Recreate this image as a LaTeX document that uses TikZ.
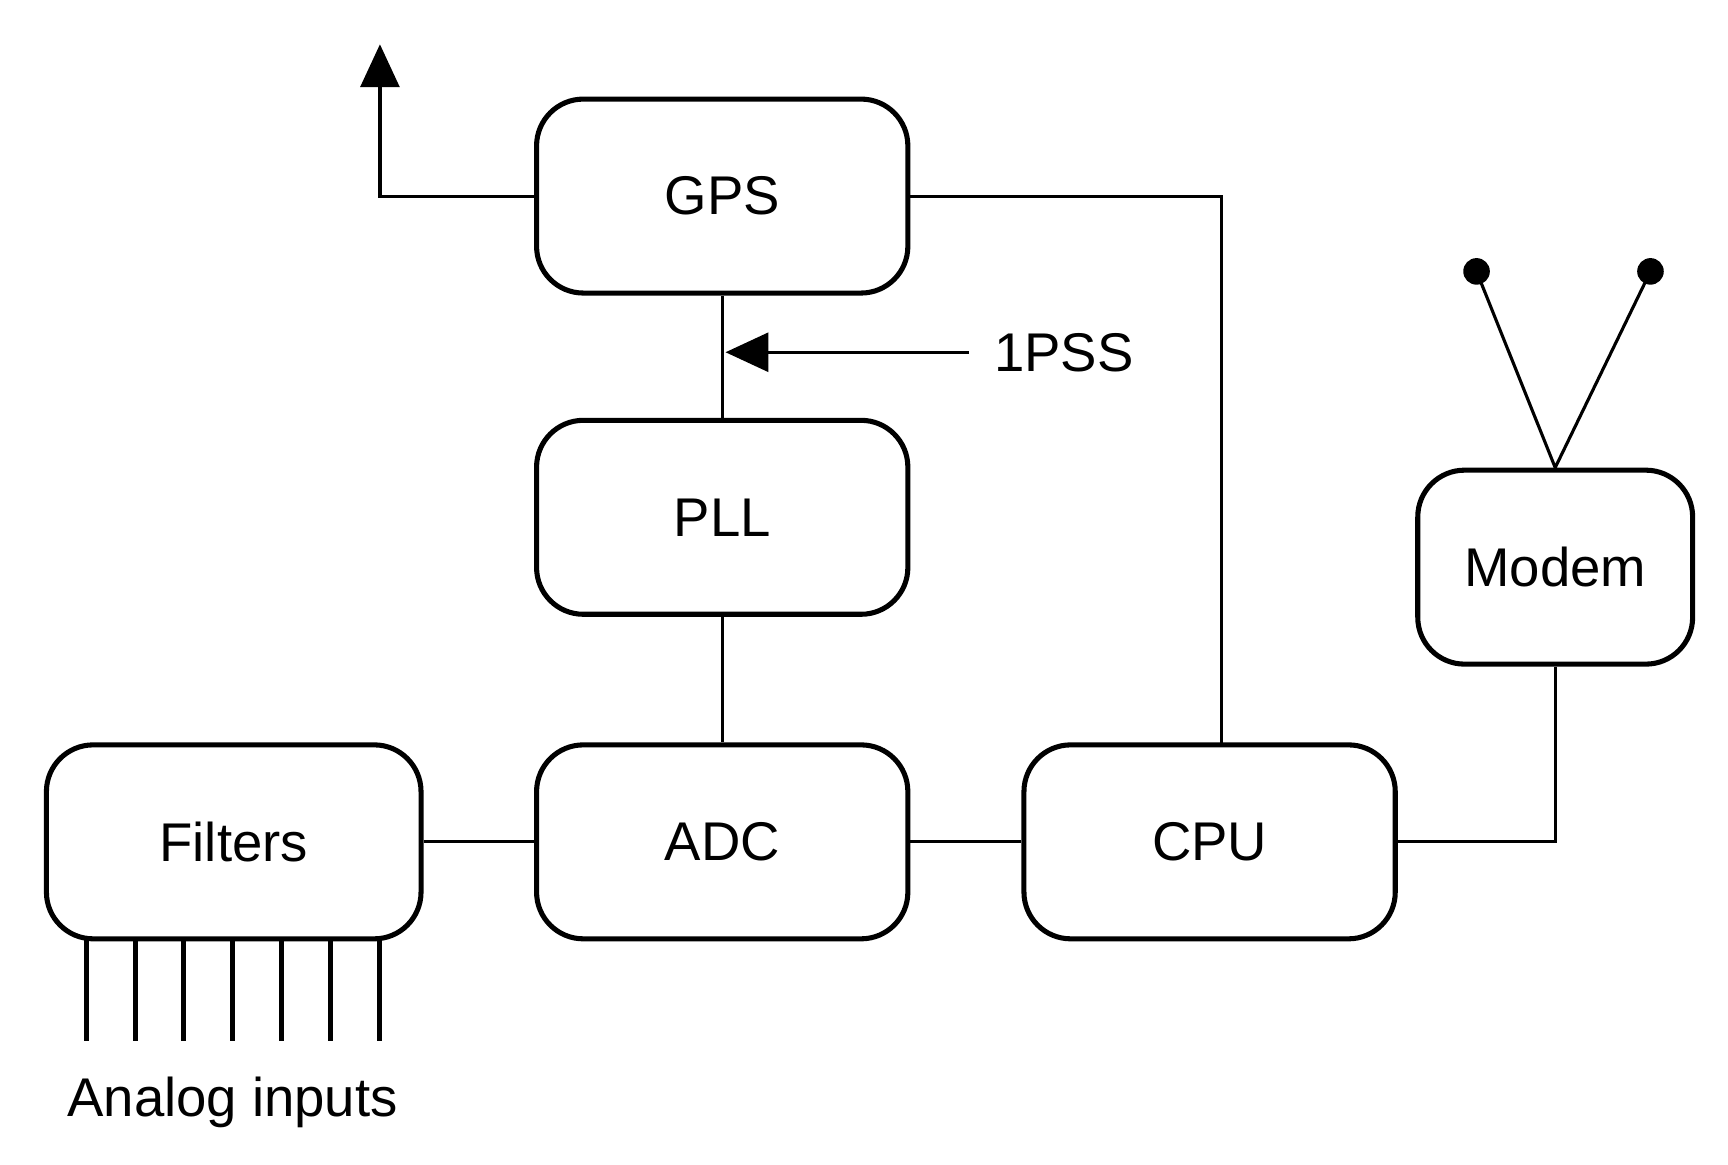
\documentclass[tikz,border=0pt]{standalone}
\usepackage{fontspec}
\setmainfont{Liberation Sans}
\usetikzlibrary{arrows.meta}

\begin{document}
\begin{tikzpicture}[x=0.01cm,y=-0.01cm,
  block/.style={draw,line width=1.3pt,rounded corners=12pt,minimum width=3.35cm,minimum height=1.75cm,font=\fontsize{14}{16}\selectfont},
  wire/.style={line width=0.8pt},
  sig/.style={wire,-{Triangle[length=11pt,width=10pt]}}]
\useasboundingbox (0,0) rectangle (1560,1051);
\node[block] (gps) at (652,177) {GPS};
\node[block] (pll) at (652,467) {PLL};
\node[block] (adc) at (652,760) {ADC};
\node[block,minimum width=3.38cm] (filt) at (211,760) {Filters};
\node[block] (cpu) at (1092,760) {CPU};
\node[block,minimum width=2.48cm] (modem) at (1404,512) {Modem};
% connectors
\coordinate (out) at (343,40);
\coordinate (cputop) at (1103,672);
\draw[sig] (gps.west) -| (out);
\draw[wire] (gps) -- (pll);
\draw[wire] (pll) -- (adc);
\draw[wire] (filt) -- (adc);
\draw[wire] (adc) -- (cpu);
\draw[wire] (gps.east) -| (cputop);
\draw[wire] (cpu.east) -| (modem.south);
\coordinate (pps) at (875,318);
\draw[sig] (pps) -- (655,318);
\node[font=\fontsize{14}{16}\selectfont,anchor=west] (ppslbl) at (885,318) {1PSS};
% antenna
\coordinate (antl) at (1333,245);
\coordinate (antr) at (1490,245);
\draw[wire] (antl) -- (modem.north) -- (antr);
\fill (antl) circle (12) (antr) circle (12);
% analog inputs
\foreach \x in {78,122,166,210,254,298,343}
  \draw[line width=1.3pt] (\x,848) -- (\x,940);
\node[font=\fontsize{14}{16}\selectfont] (ain) at (210,995) {Analog inputs};
\end{tikzpicture}
\end{document}
